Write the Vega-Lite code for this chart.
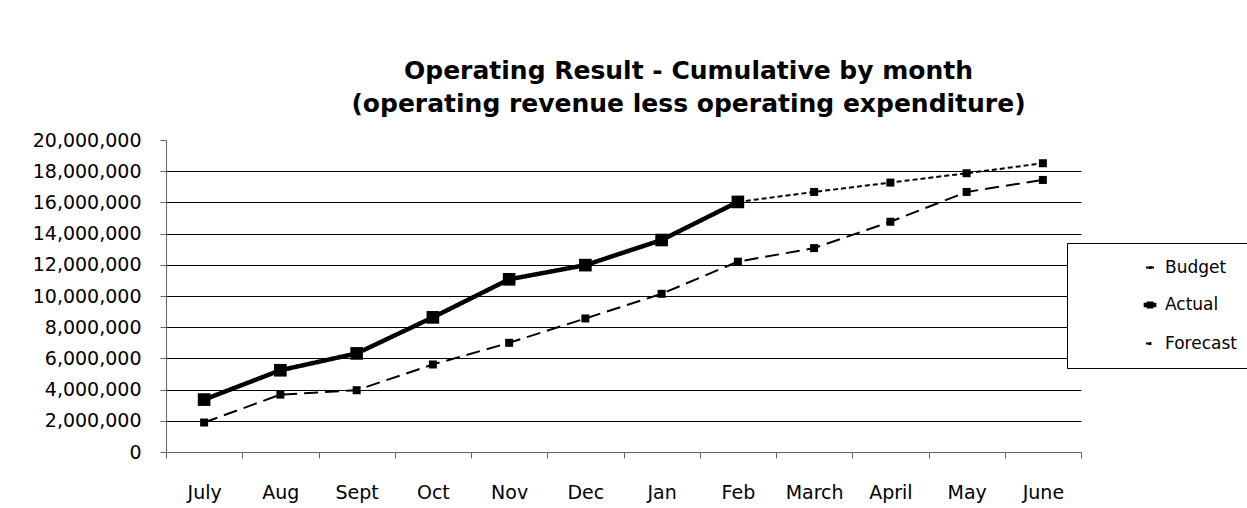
{
  "$schema": "https://vega.github.io/schema/vega-lite/v6.json",
  "width": 915,
  "height": 312,
  "autosize": "none",
  "padding": {"left": 166, "top": 140, "right": 166, "bottom": 56},
  "background": "white",
  "title": {
    "text": ["Operating Result - Cumulative by month", "(operating revenue less operating expenditure)"],
    "font": "DejaVu Sans",
    "fontSize": 25,
    "fontWeight": "bold",
    "lineHeight": 33,
    "anchor": "middle",
    "dx": 65,
    "offset": 14,
    "color": "black"
  },
  "config": {
    "view": {"stroke": null},
    "font": "DejaVu Sans"
  },
  "data": {
    "values": [
      {"month": "July", "series": "Budget", "value": 1890000},
      {"month": "Aug", "series": "Budget", "value": 3680000},
      {"month": "Sept", "series": "Budget", "value": 3960000},
      {"month": "Oct", "series": "Budget", "value": 5610000},
      {"month": "Nov", "series": "Budget", "value": 7000000},
      {"month": "Dec", "series": "Budget", "value": 8560000},
      {"month": "Jan", "series": "Budget", "value": 10140000},
      {"month": "Feb", "series": "Budget", "value": 12200000},
      {"month": "March", "series": "Budget", "value": 13070000},
      {"month": "April", "series": "Budget", "value": 14760000},
      {"month": "May", "series": "Budget", "value": 16670000},
      {"month": "June", "series": "Budget", "value": 17440000},
      {"month": "July", "series": "Actual", "value": 3360000},
      {"month": "Aug", "series": "Actual", "value": 5240000},
      {"month": "Sept", "series": "Actual", "value": 6320000},
      {"month": "Oct", "series": "Actual", "value": 8630000},
      {"month": "Nov", "series": "Actual", "value": 11070000},
      {"month": "Dec", "series": "Actual", "value": 11980000},
      {"month": "Jan", "series": "Actual", "value": 13590000},
      {"month": "Feb", "series": "Actual", "value": 16030000},
      {"month": "Feb", "series": "Forecast", "value": 16030000},
      {"month": "March", "series": "Forecast", "value": 16670000},
      {"month": "April", "series": "Forecast", "value": 17270000},
      {"month": "May", "series": "Forecast", "value": 17870000},
      {"month": "June", "series": "Forecast", "value": 18510000}
    ]
  },
  "encoding": {
    "x": {
      "field": "month",
      "type": "nominal",
      "sort": ["July", "Aug", "Sept", "Oct", "Nov", "Dec", "Jan", "Feb", "March", "April", "May", "June"],
      "scale": {"paddingInner": 0, "paddingOuter": 0},
      "axis": {
        "title": null,
        "labelAngle": 0,
        "tickBand": "extent",
        "grid": false,
        "domainColor": "#666666",
        "tickColor": "#666666",
        "tickSize": 6,
        "labelFont": "DejaVu Sans",
        "labelFontSize": 19,
        "labelColor": "black",
        "labelPadding": 25
      }
    },
    "y": {
      "field": "value",
      "type": "quantitative",
      "scale": {"domain": [0, 20000000], "nice": false},
      "axis": {
        "title": null,
        "values": [0, 2000000, 4000000, 6000000, 8000000, 10000000, 12000000, 14000000, 16000000, 18000000, 20000000],
        "format": ",d",
        "grid": true,
        "gridColor": "black",
        "gridWidth": 1,
        "gridOpacity": {"condition": {"test": "datum.value == 20000000 || datum.value == 0", "value": 0}, "value": 1},
        "domainColor": "#666666",
        "tickColor": "#666666",
        "tickSize": 6,
        "labelFont": "DejaVu Sans",
        "labelFontSize": 19,
        "labelColor": "black",
        "labelPadding": 19
      }
    }
  },
  "layer": [
    {
      "mark": {"type": "line"},
      "encoding": {
        "color": {
          "field": "series",
          "type": "nominal",
          "scale": {"domain": ["Budget", "Actual", "Forecast"], "range": ["black", "black", "black"]},
          "legend": {
            "orient": "none",
            "legendX": 901,
            "legendY": 103,
            "title": null,
            "fillColor": "white",
            "strokeColor": "black",
            "padding": 16,
            "labelFont": "DejaVu Sans",
            "labelFontSize": 17,
            "labelColor": "black",
            "symbolType": "M-1,0H1M-0.13,-0.13H0.13V0.13H-0.13Z",
            "symbolSize": 4900,
            "symbolStrokeWidth": 2,
            "symbolFillColor": "black",
            "symbolStrokeColor": "black",
            "symbolOffset": 58,
            "rowPadding": 18,
            "labelOffset": 6,
            "encode": {
              "symbols": {
                "update": {
                  "shape": {"signal": "datum.value == 'Actual' ? 'M-1,0H1M-0.18,-0.18H0.18V0.18H-0.18Z' : 'M-1,0H1M-0.11,-0.11H0.11V0.11H-0.11Z'"},
                  "size": {"value": 4900},
                  "strokeWidth": {"signal": "datum.value == 'Actual' ? 4.5 : 2"},
                  "strokeDash": {"signal": "datum.value == 'Budget' ? [14, 7] : datum.value == 'Forecast' ? [5, 3] : [1, 0]"},
                  "fill": {"value": "black"},
                  "stroke": {"value": "black"}
                }
              }
            }
          }
        },
        "strokeDash": {
          "field": "series",
          "type": "nominal",
          "scale": {"domain": ["Budget", "Actual", "Forecast"], "range": [[14, 7], [1, 0], [5, 3]]},
          "legend": null
        },
        "strokeWidth": {
          "field": "series",
          "type": "nominal",
          "scale": {"type": "ordinal", "domain": ["Budget", "Actual", "Forecast"], "range": [2, 4.5, 2]},
          "legend": null
        }
      }
    },
    {
      "mark": {"type": "point", "shape": "square", "filled": true, "color": "black", "opacity": 1},
      "encoding": {
        "size": {
          "field": "series",
          "type": "nominal",
          "scale": {"type": "ordinal", "domain": ["Budget", "Actual", "Forecast"], "range": [64, 160, 64]},
          "legend": null
        }
      }
    }
  ]
}
